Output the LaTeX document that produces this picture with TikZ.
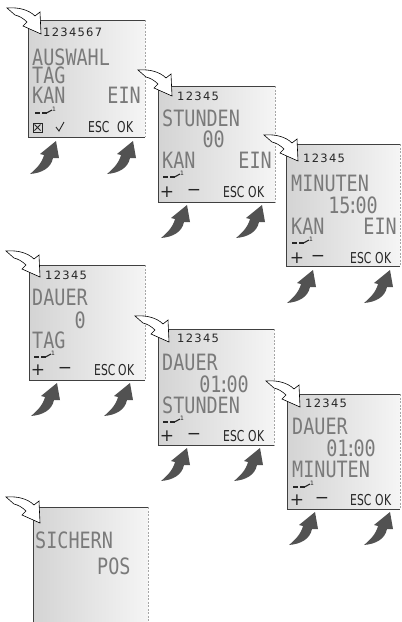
\documentclass[tikz,border=0pt]{standalone}
\usepackage{fontspec}
\newfontfamily\lcdfont[FakeStretch=0.82]{DejaVu Sans Mono}
\newfontfamily\digfont{DejaVu Sans}
\newfontfamily\btnfont[FakeStretch=0.72]{DejaVu Sans}
\tikzset{
  screen/.style={inner sep=0pt, outer sep=0pt, left color=black!17, right color=black!4},
  frame/.style={draw=black!75, line width=0.8pt},
  rframe/.style={draw=black!35, line width=0.6pt, dash pattern=on 2pt off 1.5pt},
  lcd/.style={font=\lcdfont\fontsize{22.5}{22.5}\selectfont, text=black!52, inner sep=0pt, anchor=west},
  lcdr/.style={lcd, anchor=east},
  digs/.style={font=\digfont\fontsize{11.5}{11.5}\selectfont, text=black!85, inner sep=0pt, anchor=west},
  btn/.style={font=\btnfont\fontsize{15}{15}\selectfont, text=black!85, inner sep=0pt, anchor=west},
  pm/.style={font=\digfont\fontsize{17}{17}\selectfont, text=black!85, inner sep=0pt},
  grayarrow/.pic={
    \fill[black!68] (0,0) -- (3,17) -- (-3,17) .. controls (-5,27) and (-14,32) .. (-26,33)
      .. controls (-20,28) and (-14,22) .. (-12,14) -- (-16,13) -- cycle;
  },
  whitearrow/.pic={
    \draw[fill=white, line width=0.6pt, line join=miter] (-34,-26) .. controls (-22,-27) and (-12,-24) .. (-6,-18)
      -- (-1,-22) -- (0,0) -- (-18,-8) -- (-14,-12) .. controls (-18,-16) and (-22,-18) .. (-26,-19) -- cycle;
  },
  icon/.pic={
    \draw[line width=1.3pt, black!85] (0,0) -- (5,0) (7,0) -- (11.5,0);
    \draw[line width=1.1pt, black!85] (11,0.3) -- (17,-3);
    \node[font=\digfont\fontsize{6}{6}\selectfont, inner sep=0pt, text=black!85] (-one) at (19,-4) {1};
  },
  xbox/.pic={
    \draw[line width=0.8pt, black!85] (0,0) rectangle (9,9);
    \draw[line width=0.8pt, black!85] (1.5,1.5) -- (7.5,7.5) (1.5,7.5) -- (7.5,1.5);
  },
  tick/.pic={
    \draw[line width=0.9pt, black!85] (0,5) -- (3,9) -- (8,0);
  }
}
\newcommand\mkscreen[5]{%
  \node[screen, minimum width={(#4-#2)*1pt}, minimum height={(#5-#3)*1pt}] (#1) at ({(#2+#4)/2},{(#3+#5)/2}) {};
  \draw[frame] (#1.north east) -- (#1.north west) -- (#1.south west) -- (#1.south east);
  \draw[rframe] (#1.north east) -- (#1.south east);
}
% #1 name prefix, #2 x, #3 y, #4 count
\newcommand\digrow[4]{%
  \foreach \i in {1,...,#4} {\node[digs] (#1\i) at ({#2+(\i-1)*8.6},#3) {\i};}%
}
\begin{document}
\begin{tikzpicture}[x=1pt,y=-1pt]
\useasboundingbox (0,0) rectangle (402,622);
\fill[white] (0,0) rectangle (402,622);

% ---------- screen 1
\mkscreen{s1}{28}{20}{145}{137}
\digrow{s1d}{43}{32}{7}
\node[lcd] (s1a) at (32,57.5) {AUSWAHL};
\node[lcd] (s1b) at (32,75.5) {TAG};
\node[lcd] (s1c) at (32,95.5) {KAN};
\node[lcdr] (s1e) at (141,95.5) {EIN};
\pic (s1i) at (35,113) {icon};
\pic at (33,123) {xbox};
\pic at (56,122) {tick};
\node[btn] (s1esc) at (88,127.5) {ESC};
\node[btn] (s1ok) at (117,127.5) {O\kern0.5pt K};
\pic at (41,34) {whitearrow};
\pic at (56,141) {grayarrow};
\pic at (133,141) {grayarrow};

% ---------- screen 2
\mkscreen{s2}{158}{86}{275}{202}
\digrow{s2d}{177}{96}{5}
\node[lcd] (s2a) at (162,118) {STUNDEN};
\node[lcdr] (s2b) at (225,139) {00};
\node[lcd] (s2c) at (162,160.5) {KAN};
\node[lcdr] (s2e) at (272,160.5) {EIN};
\pic (s2i) at (163,177) {icon};
\node[pm] (s2p) at (167,192) {+};
\node[pm] (s2m) at (194,192) {−};
\node[btn] (s2esc) at (223,192) {ESC};
\node[btn] (s2ok) at (248,192) {O\kern0.5pt K};
\pic at (172,96) {whitearrow};
\pic at (187,205) {grayarrow};
\pic at (262,205) {grayarrow};

% ---------- screen 3
\mkscreen{s3}{286}{144}{400}{266}
\digrow{s3d}{303}{158}{5}
\node[lcd] (s3a) at (291,183) {MINUTEN};
\node[lcdr] (s3b) at (378,205) {15\kern-3pt:\kern-3pt00};
\node[lcd] (s3c) at (291,226) {KAN};
\node[lcdr] (s3e) at (397,226) {EIN};
\pic (s3i) at (292,243) {icon};
\node[pm] (s3p) at (297,258) {+};
\node[pm] (s3m) at (318,258) {−};
\node[btn] (s3esc) at (350,258) {ESC};
\node[btn] (s3ok) at (375,258) {O\kern0.5pt K};
\pic at (298,161) {whitearrow};
\pic at (313,270) {grayarrow};
\pic at (390,270) {grayarrow};

% ---------- screen 4
\mkscreen{s4}{29}{265}{145}{380}
\digrow{s4d}{45}{275}{5}
\node[lcd] (s4a) at (32,297) {DAUER};
\node[lcdr] (s4b) at (86,320) {0};
\node[lcd] (s4c) at (32,340) {TAG};
\pic (s4i) at (34,357) {icon};
\node[pm] (s4p) at (38,370) {+};
\node[pm] (s4m) at (65,370) {−};
\node[btn] (s4esc) at (94,370) {ESC};
\node[btn] (s4ok) at (118,370) {O\kern0.5pt K};
\pic at (40,277) {whitearrow};
\pic at (57,383) {grayarrow};
\pic at (130,383) {grayarrow};

% ---------- screen 5
\mkscreen{s5}{158}{329}{274}{445}
\digrow{s5d}{177}{338}{5}
\node[lcd] (s5a) at (162,362) {DAUER};
\node[lcdr] (s5b) at (249,384) {01\kern-3pt:\kern-3pt00};
\node[lcd] (s5c) at (162,405) {STUNDEN};
\pic (s5i) at (163,422) {icon};
\node[pm] (s5p) at (167,436) {+};
\node[pm] (s5m) at (194,436) {−};
\node[btn] (s5esc) at (223,436) {ESC};
\node[btn] (s5ok) at (248,436) {O\kern0.5pt K};
\pic at (169,342) {whitearrow};
\pic at (187,448) {grayarrow};
\pic at (260,448) {grayarrow};

% ---------- screen 6
\mkscreen{s6}{287}{394}{400}{509}
\digrow{s6d}{305}{403}{5}
\node[lcd] (s6a) at (292,426) {DAUER};
\node[lcdr] (s6b) at (376,448) {01\kern-3pt:\kern-3pt00};
\node[lcd] (s6c) at (292,469) {MINUTEN};
\pic (s6i) at (293,487) {icon};
\node[pm] (s6p) at (297,500) {+};
\node[pm] (s6m) at (322,500) {−};
\node[btn] (s6esc) at (350,500) {ESC};
\node[btn] (s6ok) at (375,500) {O\kern0.5pt K};
\pic at (300,407) {whitearrow};
\pic at (315,512) {grayarrow};
\pic at (390,512) {grayarrow};

% ---------- screen 7
\node[screen, minimum width=115pt, minimum height=115pt] (s7) at (90.5,564.5) {};
\draw[frame] (s7.south west) -- (s7.north west) -- (s7.north east);
\draw[rframe] (s7.north east) -- (s7.south east);
\node[lcd] (s7a) at (35,540) {SICHERN};
\node[lcd] (s7b) at (97,566) {POS};
\pic at (40,523) {whitearrow};
\end{tikzpicture}
\end{document}
